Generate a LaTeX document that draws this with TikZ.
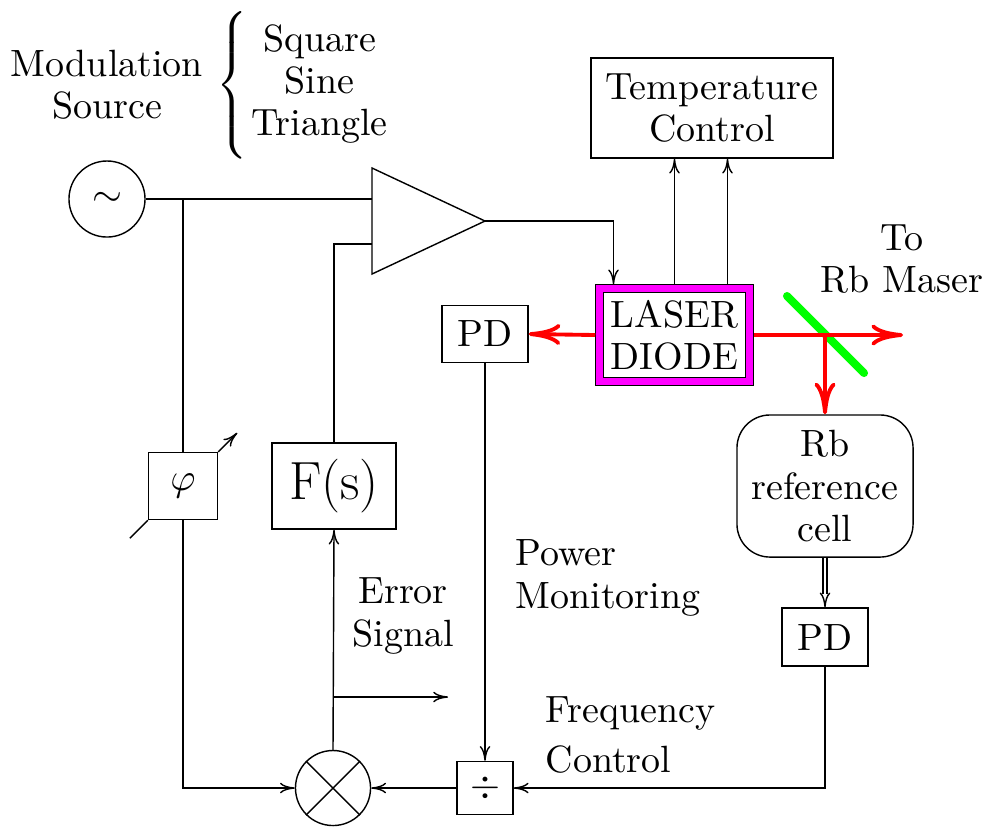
\documentclass[tikz,border=0pt]{standalone}
\usetikzlibrary{arrows.meta,calc}
\definecolor{lasermag}{RGB}{255,0,255}
\tikzset{
  blk/.style={draw, rectangle, inner sep=0pt},
  laser/.style={draw, double=lasermag, double distance=1.8pt, outer sep=1.2pt,
    minimum width=1.5cm, minimum height=0.93cm, align=center, inner sep=0pt},
  beam/.style={red, line width=1.1pt, -{To[length=9pt,width=6pt]}},
  splitter/.style={green, line width=2.3pt, line cap=round},
  txt/.style={inner sep=0pt}
}

\begin{document}
\begin{tikzpicture}[x=0.01cm, y=-0.01cm, >={To[length=4.2pt,width=3pt]},
    every node/.style={font=\fontsize{10.8}{12}\selectfont}]
\useasboundingbox (0,0) rectangle (986,829);
\node[txt, align=center] (modsrc) at (107,85) {Modulation\\Source};
\node[txt, anchor=west] (shapes) at (216,86)
  {$\left\{\rule[-19pt]{0pt}{43pt}\begin{tabular}{@{\hspace{1pt}}c@{}}Square\\Sine\\Triangle\end{tabular}\right.$};
\node[circle, draw, minimum size=0.76cm, inner sep=0pt] (osc) at (107,199) {$\sim$};
\draw (372,168) coordinate (ampT) -- (485,221) coordinate (ampout)
  -- (372,274) coordinate (ampB) -- cycle;
\coordinate (ampin1) at (372,199);
\coordinate (ampin2) at (372,244);
\node[blk, minimum width=2.42cm, minimum height=1cm, align=center] (tc) at (712,108) {Temperature\\Control};
\node[laser] (ld) at (674.5,335) {LASER\\DIODE};
\node[blk, minimum width=0.86cm, minimum height=0.57cm] (pdA) at (485,334) {PD};
\node[blk, rounded corners=0.33cm, minimum width=1.76cm, minimum height=1.42cm, align=center]
  (cell) at (825,486) {Rb\\reference\\cell};
\node[blk, minimum width=0.86cm, minimum height=0.58cm] (pdB) at (825,637) {PD};
\node[blk, minimum width=0.69cm, minimum height=0.67cm] (phi) at (183,486) {$\varphi$};
\node[blk, minimum width=1.24cm, minimum height=0.86cm, font=\fontsize{15.3}{18}\selectfont]
  (fs) at (334,486) {F(s)};
\node[circle, draw, minimum size=0.75cm, inner sep=0pt] (mix) at (333,788) {};
\draw (mix.north west) -- (mix.south east) (mix.north east) -- (mix.south west);
\node[blk, minimum width=0.56cm, minimum height=0.53cm] (div) at (485,788) {$\div$};
\node[txt, align=center] (maser) at (902,259) {To\\Rb Maser};
\node[txt, align=left, anchor=west] (power) at (515,578) {Power\\Monitoring};
\node[txt, align=center] (error) at (403,616) {Error\\Signal};
\node[txt, align=left, anchor=west] (freq) at (545,735) {Frequency\\[2pt]Control};

\draw (osc) -- (ampin1);
\draw (phi |- osc) -- (phi.north);
\draw[->] (phi.south) |- (mix.west);
\draw (phi.south west) -- ++(-18,18);
\draw[->] (phi.north east) -- ++(19,-19);
\draw[->] (mix.north) -- (fs.south);
\draw (fs.north) |- (ampin2);
\coordinate (errend) at (448,697);
\draw[->] (errend -| mix.north) -- (errend);
\draw[->] (div.west) -- (mix.east);
\draw[->] (pdA.south) -- (div.north);
\draw[->] (pdB.south) |- (div.east);
\draw[->] (ampout) -| ($(ld.north)+(-61,0)$);
\draw[->] (ld.north) -- (ld.north |- tc.south);
\draw[->] ($(ld.north)+(53,0)$) coordinate (ldB) -- (ldB |- tc.south);
\draw[double, double distance=0.8pt, shorten >=3.8pt] (cell.south) -- (pdB.north);
\draw[->] ($(pdB.north)+(0,-5)$) -- (pdB.north);

\coordinate (bs) at (825,335);
\coordinate (out) at (903,335);
\draw[splitter] (787,296) -- (864,373);
\draw[beam] (ld.west) -- (pdA.east);
\draw[beam] (ld.east) -- (out);
\draw[beam] (bs) -- (cell.north);
\end{tikzpicture}
\end{document}
